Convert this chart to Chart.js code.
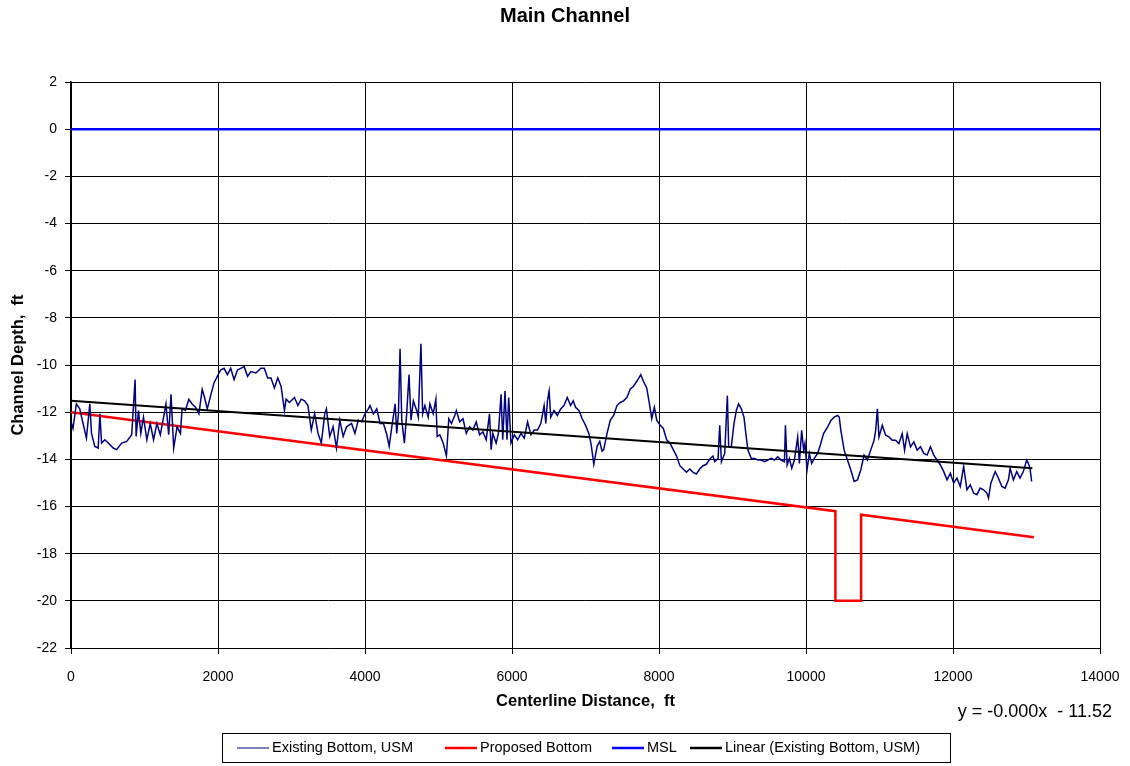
<!DOCTYPE html>
<html>
<head>
<meta charset="utf-8">
<script src="https://cdn.jsdelivr.net/npm/chart.js@4/dist/chart.umd.min.js"></script>
<style>
  html, body { margin: 0; padding: 0; background: #fff; }
</style>
</head>
<body>
<canvas id="mainChannelChart" width="1130" height="766"></canvas>
<script>
// centerline distance (ft) / channel depth (ft)
const existingBottom = [
  [0,-12.41],[27,-12.69],[73,-11.65],[119,-11.86],[164,-12.48],[210,-13.10],[256,-11.65],[279,-12.90],[324,-13.45],[370,-13.52],
  [393,-12.07],[416,-13.31],[461,-13.17],[507,-13.31],[575,-13.52],[621,-13.59],[689,-13.31],[758,-13.24],[826,-12.96],[872,-10.62],
  [886,-13.03],[918,-11.93],[950,-12.90],[986,-12.21],[1032,-13.17],[1078,-12.48],[1123,-13.17],[1169,-12.48],[1215,-12.96],[1260,-12.21],
  [1292,-11.65],[1329,-12.96],[1361,-11.24],[1397,-13.52],[1443,-12.62],[1489,-12.90],[1511,-11.86],[1557,-11.93],[1603,-11.45],[1648,-11.65],
  [1694,-11.79],[1740,-12.07],[1785,-11.03],[1817,-11.38],[1854,-11.86],[1899,-11.31],[1945,-10.76],[1991,-10.48],[2036,-10.21],[2082,-10.14],
  [2128,-10.41],[2173,-10.14],[2219,-10.62],[2265,-10.21],[2310,-10.14],[2356,-10.07],[2402,-10.48],[2447,-10.28],[2516,-10.34],[2584,-10.14],
  [2630,-10.14],[2676,-10.55],[2721,-10.55],[2767,-10.97],[2813,-10.55],[2858,-10.90],[2904,-11.93],[2927,-11.45],[2972,-11.59],[3041,-11.38],
  [3087,-11.72],[3132,-11.45],[3178,-11.52],[3224,-11.72],[3269,-12.76],[3315,-12.07],[3361,-12.90],[3406,-13.31],[3452,-12.07],[3475,-11.86],
  [3520,-13.03],[3566,-12.62],[3612,-13.52],[3657,-12.34],[3703,-13.03],[3749,-12.62],[3817,-12.48],[3863,-12.90],[3909,-12.34],[3954,-12.41],
  [4000,-12.07],[4046,-11.86],[4068,-11.72],[4114,-12.07],[4160,-11.86],[4205,-12.48],[4251,-12.48],[4297,-12.96],[4329,-13.45],[4365,-12.62],
  [4410,-11.65],[4432,-12.90],[4455,-12.07],[4477,-9.31],[4500,-12.34],[4536,-13.31],[4567,-12.07],[4599,-10.41],[4626,-12.34],[4658,-11.52],
  [4703,-11.93],[4725,-12.21],[4761,-9.10],[4784,-12.07],[4815,-11.72],[4860,-12.21],[4883,-11.65],[4928,-12.07],[4964,-11.45],[4982,-13.03],
  [5018,-12.96],[5063,-13.31],[5108,-13.86],[5140,-12.28],[5176,-12.48],[5221,-12.14],[5243,-11.93],[5288,-12.41],[5333,-12.28],[5378,-12.90],
  [5423,-12.62],[5468,-12.76],[5513,-12.41],[5559,-12.96],[5604,-12.83],[5649,-13.17],[5694,-12.07],[5716,-13.59],[5739,-12.90],[5784,-13.31],
  [5815,-12.90],[5851,-11.24],[5874,-13.17],[5905,-11.10],[5932,-13.17],[5955,-11.38],[5986,-13.31],[6032,-12.96],[6077,-13.17],[6122,-12.90],
  [6167,-13.10],[6212,-12.41],[6257,-12.96],[6302,-12.76],[6347,-12.76],[6392,-12.48],[6437,-11.72],[6460,-12.48],[6482,-11.52],[6505,-11.10],
  [6527,-12.21],[6572,-11.93],[6617,-12.14],[6662,-11.86],[6707,-11.72],[6752,-11.38],[6797,-11.72],[6833,-11.52],[6865,-11.79],[6910,-11.93],
  [6955,-12.28],[7000,-12.55],[7045,-12.90],[7077,-13.38],[7113,-14.21],[7158,-13.45],[7194,-13.24],[7225,-13.65],[7248,-13.59],[7293,-12.90],
  [7338,-12.34],[7383,-12.14],[7428,-11.72],[7473,-11.59],[7518,-11.52],[7563,-11.38],[7608,-11.03],[7653,-10.90],[7698,-10.69],[7752,-10.41],
  [7788,-10.69],[7833,-10.97],[7870,-11.65],[7901,-12.28],[7937,-11.79],[7969,-12.34],[8014,-12.55],[8059,-12.69],[8104,-13.17],[8149,-13.31],
  [8194,-13.59],[8239,-13.86],[8284,-14.27],[8329,-14.41],[8374,-14.55],[8419,-14.41],[8464,-14.55],[8509,-14.62],[8554,-14.41],[8599,-14.27],
  [8644,-14.21],[8689,-14.00],[8734,-13.86],[8758,-14.10],[8804,-13.96],[8826,-12.56],[8849,-14.10],[8894,-13.75],[8930,-11.30],[8948,-13.47],
  [8984,-13.47],[9020,-12.49],[9052,-11.93],[9083,-11.65],[9120,-11.86],[9156,-12.21],[9187,-13.05],[9210,-13.61],[9255,-13.96],[9300,-13.96],
  [9345,-14.03],[9390,-14.03],[9436,-14.10],[9481,-14.03],[9526,-13.96],[9571,-14.03],[9616,-13.89],[9661,-14.03],[9707,-14.10],[9720,-12.56],
  [9743,-14.24],[9774,-13.96],[9806,-14.38],[9842,-14.03],[9887,-13.05],[9910,-14.17],[9941,-12.77],[9968,-13.61],[9986,-13.33],[10014,-14.45],
  [10045,-13.75],[10077,-14.17],[10113,-13.96],[10158,-13.75],[10194,-13.40],[10239,-12.91],[10293,-12.63],[10339,-12.35],[10384,-12.21],[10429,-12.14],
  [10452,-12.21],[10474,-12.77],[10519,-13.61],[10564,-14.03],[10610,-14.45],[10655,-14.94],[10700,-14.87],[10745,-14.45],[10790,-13.82],[10835,-14.03],
  [10880,-13.61],[10926,-13.19],[10948,-12.77],[10971,-11.86],[10993,-13.05],[11038,-12.56],[11084,-12.98],[11129,-13.05],[11174,-13.19],[11219,-13.19],
  [11264,-13.33],[11309,-12.91],[11341,-13.61],[11377,-12.91],[11422,-13.47],[11467,-13.26],[11513,-13.61],[11558,-13.47],[11603,-13.75],[11648,-13.82],
  [11693,-13.47],[11738,-13.82],[11783,-14.03],[11829,-14.24],[11874,-14.52],[11919,-14.87],[11964,-14.59],[12009,-15.01],[12054,-14.80],[12099,-15.15],
  [12145,-14.31],[12190,-15.29],[12235,-15.08],[12280,-15.43],[12325,-15.50],[12370,-15.22],[12416,-15.29],[12461,-15.43],[12483,-15.64],[12515,-15.01],
  [12574,-14.52],[12619,-14.80],[12664,-15.15],[12709,-15.22],[12754,-14.87],[12777,-14.38],[12822,-14.87],[12867,-14.52],[12912,-14.80],[12957,-14.52],
  [13002,-14.03],[13025,-14.17],[13048,-14.38],[13070,-14.94]
];
const proposedDist = [0, 10400, 10400, 10750, 10750, 13100];
const proposedDepth = [-12, -16.2, -20, -20, -16.35, -17.3];
const mslDist = [0, 14000];
const mslDepth = [0, 0];
// trendline end points (y = -0.000x - 11.52)
const trendDist = [0, 13080];
const trendDepth = [-11.52, -14.38];

const seriesNames = ["Existing Bottom, USM", "Proposed Bottom", "MSL", "Linear (Existing Bottom, USM)"];
const seriesColors = ["#000080", "#FF0000", "#0000FF", "#000000"];
const legendLineWidths = [1, 2.5, 2.5, 2.5];
const legendStarts = [237, 445, 612, 690];
const equationText = "y = -0.000x  - 11.52";

const FONT = '"Liberation Sans", Arial, sans-serif';

const toPoints = (xs, ys) => xs.map((x, i) => ({ x: x, y: ys[i] }));

// title, equation label and boxed legend
const overlayPlugin = {
    id: "overlay",
    afterDraw(chart) {
        const ctx = chart.ctx;
        ctx.save();
        ctx.fillStyle = "#000";
        ctx.textBaseline = "middle";

        ctx.font = "bold 20px " + FONT;
        ctx.textAlign = "center";
        ctx.fillText("Main Channel", 565, 16);

        ctx.font = "18px " + FONT;
        ctx.textAlign = "right";
        ctx.fillText(equationText, 1112, 712);

        ctx.strokeStyle = "#000";
        ctx.lineWidth = 1;
        ctx.strokeRect(222.5, 733.5, 728, 29);

        ctx.font = "14.5px " + FONT;
        ctx.textAlign = "left";
        seriesNames.forEach((name, i) => {
            const x0 = legendStarts[i];
            ctx.strokeStyle = seriesColors[i];
            ctx.lineWidth = legendLineWidths[i];
            ctx.beginPath();
            ctx.moveTo(x0, 748);
            ctx.lineTo(x0 + 32, 748);
            ctx.stroke();
            ctx.fillStyle = "#000";
            ctx.fillText(name, x0 + 35, 748);
        });
        ctx.restore();
    },
};

const ctx = document.getElementById("mainChannelChart").getContext("2d");

new Chart(ctx, {
    type: "scatter",
    plugins: [overlayPlugin],
    data: {
        datasets: [
            {
                label: seriesNames[0],
                data: existingBottom.map((p) => ({ x: p[0], y: p[1] })),
                borderColor: seriesColors[0],
                borderWidth: 1.5,
                order: 2,
            },
            {
                label: seriesNames[1],
                data: toPoints(proposedDist, proposedDepth),
                borderColor: seriesColors[1],
                borderWidth: 2.5,
                order: 3,
            },
            {
                label: seriesNames[2],
                data: toPoints(mslDist, mslDepth),
                borderColor: seriesColors[2],
                borderWidth: 2.5,
                order: 1,
            },
            {
                label: seriesNames[3],
                data: toPoints(trendDist, trendDepth),
                borderColor: seriesColors[3],
                borderWidth: 2,
                order: 0,
            },
        ],
    },
    options: {
        responsive: false,
        animation: false,
        showLine: true,
        elements: {
            point: { radius: 0, hoverRadius: 0 },
            line: { tension: 0, fill: false },
        },
        layout: {
            padding: { left: 0, top: 82, right: 30, bottom: 52 },
        },
        plugins: {
            legend: { display: false },
            title: { display: false },
            tooltip: { enabled: false },
        },
        scales: {
            x: {
                type: "linear",
                min: 0,
                max: 14000,
                afterFit: (scale) => {
                    scale.height = 66;
                    scale.paddingLeft = 0;
                    scale.paddingRight = 0;
                },
                ticks: {
                    stepSize: 2000,
                    color: "#000",
                    padding: 15,
                    maxRotation: 0,
                    callback: (value) => String(value),
                    font: { family: FONT, size: 14 },
                },
                grid: { color: "#000", lineWidth: 1, tickLength: 6 },
                border: { color: "#000", width: 1 },
                title: {
                    display: true,
                    text: "Centerline Distance,  ft",
                    color: "#000",
                    padding: { top: 0, bottom: 3 },
                    font: { family: FONT, size: 16.5, weight: "bold" },
                },
            },
            y: {
                min: -22,
                max: 2,
                afterFit: (scale) => { scale.width = 71; },
                ticks: {
                    stepSize: 2,
                    color: "#000",
                    padding: 8,
                    font: { family: FONT, size: 14 },
                },
                grid: { color: "#000", lineWidth: 1, tickLength: 6 },
                border: { color: "#000", width: 1.5 },
                title: {
                    display: true,
                    text: "Channel Depth,  ft",
                    color: "#000",
                    padding: { top: 9, bottom: 0 },
                    font: { family: FONT, size: 16.5, weight: "bold" },
                },
            },
        },
    },
});
</script>
</body>
</html>
